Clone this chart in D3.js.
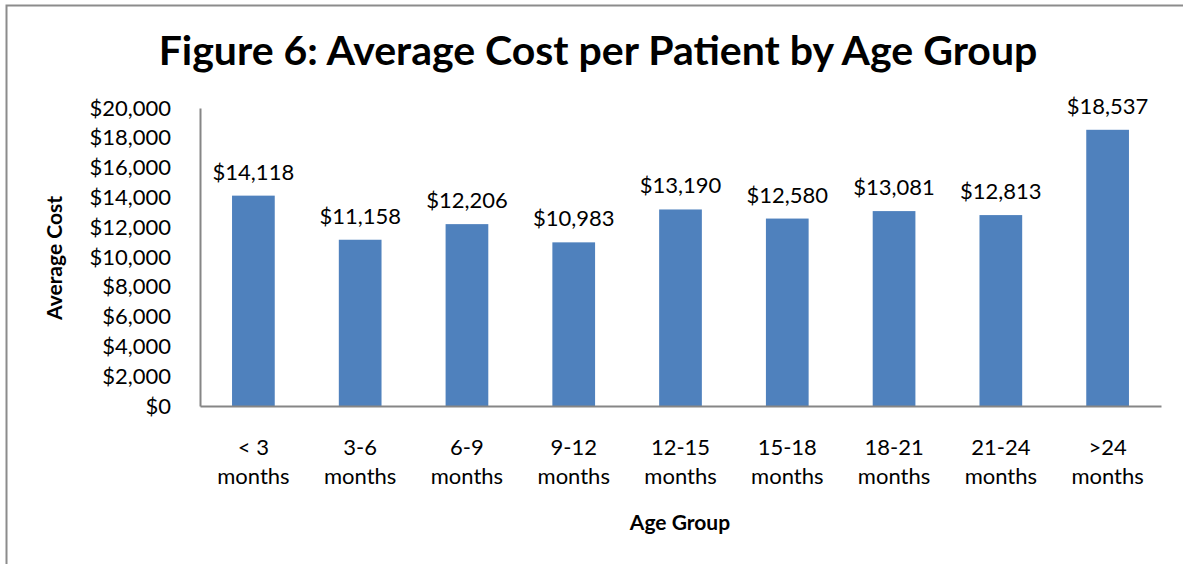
<!DOCTYPE html>
<html>
<head>
<meta charset="utf-8">
<script src="https://cdn.jsdelivr.net/npm/d3@7"></script>
<style>
  body { margin: 0; background: #fff; }
  svg text { font-family: Lato, "Open Sans", sans-serif; fill: #000; }
</style>
</head>
<body>
<svg id="chart" width="1183" height="564"></svg>
<script>
// chart data
const ageGroups = ['< 3|months', '3-6|months', '6-9|months', '9-12|months', '12-15|months',
    '15-18|months', '18-21|months', '21-24|months', '>24|months'];
const avgCost = [14118, 11158, 12206, 10983, 13190, 12580, 13081, 12813, 18537];
const yTicks = [0, 2000, 4000, 6000, 8000, 10000, 12000, 14000, 16000, 18000, 20000];

const svg = d3.select('#chart');
const margin = {left: 200, top: 108, right: 22, bottom: 158};
const width = 1183 - margin.left - margin.right;
const height = 564 - margin.top - margin.bottom;

const money = d3.format('$,');

// outer frame (left and top only, like the clipped screenshot)
svg.append('path')
    .attr('d', 'M6.5,564 L6.5,5.5 L1183,5.5')
    .style('fill', 'none')
    .style('stroke', '#8c8c8c')
    .style('stroke-width', 2);

svg.append('text')
    .attr('x', 598)
    .attr('y', 65)
    .attr('text-anchor', 'middle')
    .style('font-size', '41px')
    .style('font-weight', 'bold')
    .text('Figure 6: Average Cost per Patient by Age Group');

const x = d3.scaleBand().domain(ageGroups).range([0, width]).paddingInner(0.6).paddingOuter(0.3);
const y = d3.scaleLinear().domain([0, 20000]).range([height, 0]);

const g = svg.append('g').attr('transform', 'translate(' + margin.left + ',' + margin.top + ')');

g.selectAll('rect.bar')
    .data(avgCost)
    .enter()
    .append('rect')
    .attr('class', 'bar')
    .attr('x', (d, i) => x(ageGroups[i]))
    .attr('y', d => y(d))
    .attr('width', x.bandwidth())
    .attr('height', d => height - y(d))
    .style('fill', '#4f81bd');

g.selectAll('text.val')
    .data(avgCost)
    .enter()
    .append('text')
    .attr('class', 'val')
    .attr('x', (d, i) => x(ageGroups[i]) + x.bandwidth() / 2)
    .attr('y', d => y(d) - 16)
    .attr('text-anchor', 'middle')
    .style('font-size', '22px')
    .text(d => money(d));

// y axis
const yAxis = g.append('g')
    .call(d3.axisLeft(y).tickValues(yTicks).tickFormat(money).tickSize(0).tickPadding(29));
yAxis.select('.domain').attr('stroke', '#868686').attr('stroke-width', 2);
yAxis.selectAll('text').style('font-size', '22px').style('font-family', 'Lato, sans-serif').attr('fill', '#000');

// x axis
const xAxis = g.append('g')
    .attr('transform', 'translate(0,' + height + ')')
    .call(d3.axisBottom(x).tickSize(0).tickFormat(''));
xAxis.select('.domain').attr('stroke', '#868686').attr('stroke-width', 2);
xAxis.selectAll('.tick').each(function (d) {
    const parts = d.split('|');
    const t = d3.select(this).append('text')
        .attr('text-anchor', 'middle')
        .style('font-size', '22px')
        .style('font-family', 'Lato, sans-serif')
        .attr('fill', '#000');
    t.append('tspan').attr('x', 0).attr('y', 49).text(parts[0]);
    t.append('tspan').attr('x', 0).attr('y', 78).text(parts[1]);
});

svg.append('text')
    .attr('x', 680)
    .attr('y', 530)
    .attr('text-anchor', 'middle')
    .style('font-size', '21px')
    .style('font-weight', 'bold')
    .text('Age Group');

svg.append('text')
    .attr('transform', 'translate(62,258)rotate(-90)')
    .attr('text-anchor', 'middle')
    .style('font-size', '21px')
    .style('font-weight', 'bold')
    .text('Average Cost');
</script>
</body>
</html>
